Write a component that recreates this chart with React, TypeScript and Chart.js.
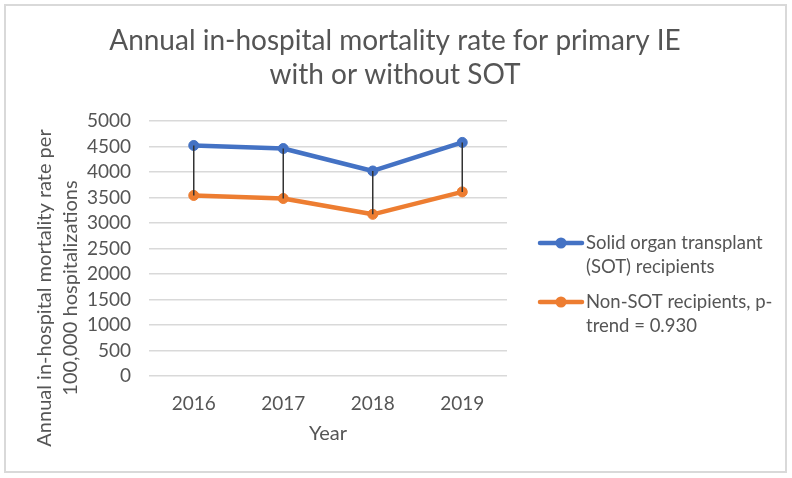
import React, { useEffect, useRef } from "react";
import { Chart, registerables } from "chart.js";

Chart.register(...registerables);

// ---- data ----
const years = ["2016", "2017", "2018", "2019"];
const sotValues = [4520, 4460, 4020, 4580];
const nonSotValues = [3540, 3480, 3170, 3610];
const yTicksMin = 0;
const yTicksMax = 5000;
const yTicksStep = 500;
const titleLines = ["Annual in-hospital mortality rate for primary IE", "with or without SOT"];
const yTitleLines = ["Annual in-hospital mortality rate per", "100,000 hospitalizations"];
const xTitleText = "Year";
const sotLegend = ["Solid organ transplant", "(SOT) recipients"];
const nonSotLegend = ["Non-SOT recipients, p-", "trend = 0.930"];

// ---- style ----
const FONT = "Lato, 'Noto Sans', sans-serif";
const TEXT = "#555555";
const BLUE = "#4472C4";
const ORANGE = "#ED7D31";
const GRID = "#d9d9d9";

const decorPlugin = {
  id: "decor",
  beforeDraw(chart: any) {
    const ctx = chart.ctx;
    ctx.save();
    ctx.fillStyle = "#ffffff";
    ctx.fillRect(0, 0, chart.width, chart.height);
    ctx.strokeStyle = GRID;
    ctx.lineWidth = 2;
    ctx.strokeRect(5, 5, 781, 467);
    ctx.restore();
  },
  afterDatasetsDraw(chart: any) {
    const ctx = chart.ctx;
    const a = chart.getDatasetMeta(0).data;
    const b = chart.getDatasetMeta(1).data;
    ctx.save();
    ctx.strokeStyle = "#333333";
    ctx.lineWidth = 1.5;
    for (let i = 0; i < a.length; i++) {
      ctx.beginPath();
      ctx.moveTo(a[i].x, a[i].y);
      ctx.lineTo(b[i].x, b[i].y);
      ctx.stroke();
    }
    ctx.restore();
  },
  afterDraw(chart: any) {
    const ctx = chart.ctx;
    ctx.save();
    ctx.fillStyle = TEXT;
    // title
    ctx.font = `28px ${FONT}`;
    ctx.textAlign = "center";
    ctx.textBaseline = "alphabetic";
    ctx.fillText(titleLines[0], 395, 49.5);
    ctx.fillText(titleLines[1], 395, 84);
    // y axis title
    ctx.font = `20px ${FONT}`;
    ctx.textBaseline = "middle";
    const yx = [45, 71];
    yTitleLines.forEach((t, i) => {
      ctx.save();
      ctx.translate(yx[i], 288);
      ctx.rotate(-Math.PI / 2);
      ctx.fillText(t, 0, 0);
      ctx.restore();
    });
    // legend
    const items = [
      { color: BLUE, lines: sotLegend, y: 243 },
      { color: ORANGE, lines: nonSotLegend, y: 302 },
    ];
    ctx.font = `18.5px ${FONT}`;
    ctx.textAlign = "left";
    items.forEach((it) => {
      ctx.strokeStyle = it.color;
      ctx.fillStyle = it.color;
      ctx.lineWidth = 4.5;
      ctx.lineCap = "round";
      ctx.beginPath();
      ctx.moveTo(540, it.y);
      ctx.lineTo(582, it.y);
      ctx.stroke();
      ctx.beginPath();
      ctx.arc(561, it.y, 5.5, 0, Math.PI * 2);
      ctx.fill();
      ctx.fillStyle = TEXT;
      it.lines.forEach((l, j) => ctx.fillText(l, 586, it.y + j * 24));
    });
    ctx.restore();
  },
};

export default function App() {
  const ref = useRef<HTMLCanvasElement>(null);
  useEffect(() => {
    if (!ref.current) return;
    const chart = new Chart(ref.current, {
      type: "line",
      data: {
        labels: years,
        datasets: [
          {
            label: sotLegend.join(" "),
            data: sotValues,
            borderColor: BLUE,
            backgroundColor: BLUE,
            pointBackgroundColor: BLUE,
            pointBorderColor: BLUE,
            borderWidth: 4.5,
            pointRadius: 5,
            pointBorderWidth: 1,
            borderCapStyle: "round",
            borderJoinStyle: "round",
            tension: 0,
          },
          {
            label: nonSotLegend.join(" "),
            data: nonSotValues,
            borderColor: ORANGE,
            backgroundColor: ORANGE,
            pointBackgroundColor: ORANGE,
            pointBorderColor: ORANGE,
            borderWidth: 4.5,
            pointRadius: 5,
            pointBorderWidth: 1,
            borderCapStyle: "round",
            borderJoinStyle: "round",
            tension: 0,
          },
        ],
      },
      options: {
        responsive: false,
        animation: false,
        devicePixelRatio: 1,
        layout: { padding: { top: 121, left: 0, right: 285, bottom: 32.6 } },
        plugins: {
          legend: { display: false },
          title: { display: false },
          tooltip: { enabled: false },
        },
        scales: {
          x: {
            offset: true,
            grid: { display: false },
            border: { display: false },
            ticks: { color: TEXT, font: { family: FONT, size: 19 }, padding: 8 },
            title: {
              display: true,
              text: xTitleText,
              color: TEXT,
              font: { family: FONT, size: 20 },
              padding: { top: 0, bottom: 0 },
            },
            afterFit: (s: any) => {
              s.height = 69.4;
            },
          },
          y: {
            min: yTicksMin,
            max: yTicksMax,
            ticks: {
              stepSize: yTicksStep,
              autoSkip: false,
              maxTicksLimit: 20,
              color: TEXT,
              font: { family: FONT, size: 19, lineHeight: 1 },
              padding: 18,
              callback: (v: any) => String(v),
            },
            grid: { color: GRID, lineWidth: 1.5, drawTicks: false },
            border: { display: false },
            afterFit: (s: any) => {
              s.width = 149;
            },
          },
        },
      },
      plugins: [decorPlugin],
    } as any);
    return () => chart.destroy();
  }, []);
  return (
    <div style={{ position: "absolute", left: 0, top: 0, width: 792, height: 478 }}>
      <canvas ref={ref} width={792} height={478} style={{ display: "block" }} />
    </div>
  );
}
